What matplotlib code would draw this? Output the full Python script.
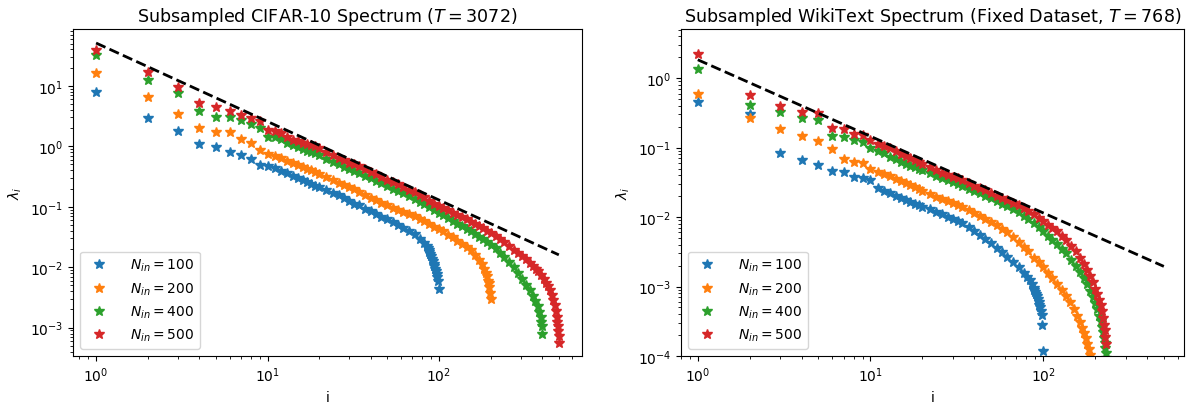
"""Eigenvalue spectra of subsampled CIFAR-10 and WikiText covariances, log-log."""

import matplotlib
matplotlib.use("Agg")
import matplotlib.pyplot as plt

N_IN = [100, 200, 400, 500]
COLORS = ["tab:blue", "tab:orange", "tab:green", "tab:red"]

# ---- CIFAR-10 (T = 3072) ----
cifar_i_100 = [1, 2, 3, 4, 5, 6, 7, 8, 9, 10, 11, 12, 13, 14, 15, 16, 17, 18, 19, 20,
               22, 24, 26, 28, 30, 32, 34, 37, 40, 43, 46, 50, 54, 58, 62, 67, 72, 77,
               82, 85, 86, 87, 88, 89, 90, 91, 92, 93, 94, 95, 96, 97, 98, 99, 100]
cifar_lam_100 = [7.9, 2.95, 1.8, 1.1, 0.98, 0.79, 0.72, 0.61, 0.49, 0.47, 0.43, 0.39,
                 0.355, 0.325, 0.30, 0.275, 0.257, 0.234, 0.224, 0.214,
                 0.19, 0.17, 0.155, 0.138, 0.123, 0.112, 0.105, 0.093, 0.085, 0.076,
                 0.068, 0.062, 0.055, 0.050, 0.045, 0.040, 0.035, 0.0295,
                 0.025, 0.0224, 0.021, 0.0195, 0.018, 0.0166, 0.0151, 0.0138, 0.0126,
                 0.0115, 0.0105, 0.0095, 0.0085, 0.0076, 0.0068, 0.0059, 0.0044]

cifar_i_200 = [1, 2, 3, 4, 5, 6, 7, 8, 9, 10, 11, 12, 13, 14, 15, 16, 17, 18, 19, 20,
               22, 24, 26, 28, 30, 32, 34, 37, 40, 43, 46, 50, 54, 58, 62, 67, 72, 77,
               82, 88, 94, 100, 106, 113, 120, 128, 136, 145, 154, 163, 172, 178, 183,
               187, 190, 193, 195, 197, 199, 200]
cifar_lam_200 = [16.3, 6.6, 3.36, 2.0, 1.72, 1.70, 1.32, 1.14, 0.86, 0.74, 0.68, 0.63,
                 0.575, 0.525, 0.49, 0.457, 0.427, 0.40, 0.372, 0.347,
                 0.309, 0.275, 0.251, 0.229, 0.209, 0.195, 0.178, 0.158, 0.141, 0.129,
                 0.117, 0.105, 0.095, 0.089, 0.083, 0.076, 0.069, 0.063,
                 0.0575, 0.0525, 0.047, 0.0427, 0.039, 0.0347, 0.031, 0.0275, 0.0245,
                 0.0219, 0.019, 0.0162, 0.0132, 0.0112, 0.0095,
                 0.0081, 0.0071, 0.006, 0.0054, 0.0047, 0.0038, 0.003]

cifar_i_400 = [1, 2, 3, 4, 5, 6, 7, 8, 9, 10, 11, 12, 13, 14, 15, 16, 17, 18, 19, 20,
               22, 24, 26, 28, 30, 32, 34, 37, 40, 43, 46, 50, 54, 58, 62, 67, 72, 77,
               82, 88, 94, 100, 106, 113, 120, 128, 136, 145, 154, 163, 172, 181, 191,
               202, 214, 227, 241, 256, 272, 288, 305, 322, 338, 352, 365, 376, 385,
               391, 395, 398, 400]
cifar_lam_400 = [32, 12.7, 7.6, 3.9, 3.1, 3.0, 2.7, 2.34, 2.0, 1.45, 1.40, 1.34,
                 1.15, 1.05, 0.98, 0.91, 0.85, 0.81, 0.76, 0.71,
                 0.62, 0.55, 0.50, 0.457, 0.417, 0.389, 0.363, 0.324, 0.295, 0.269,
                 0.245, 0.219, 0.20, 0.182, 0.166, 0.148, 0.132, 0.120,
                 0.110, 0.098, 0.089, 0.079, 0.072, 0.065, 0.059, 0.0525, 0.048,
                 0.0427, 0.039, 0.0355, 0.0316, 0.0288, 0.0263,
                 0.0234, 0.0204, 0.0174, 0.0145, 0.012, 0.010, 0.0079, 0.0063, 0.005,
                 0.0042, 0.0034, 0.00275, 0.00224, 0.0018,
                 0.0015, 0.00126, 0.00105, 0.00079]

cifar_i_500 = [1, 2, 3, 4, 5, 6, 7, 8, 9, 10, 11, 12, 13, 14, 15, 16, 17, 18, 19, 20,
               22, 24, 26, 28, 30, 32, 34, 37, 40, 43, 46, 50, 54, 58, 62, 67, 72, 77,
               82, 88, 94, 100, 106, 113, 120, 128, 136, 145, 154, 163, 172, 181, 191,
               202, 214, 227, 241, 256, 272, 288, 305, 322, 338, 352, 366, 380, 394,
               408, 420, 432, 444, 455, 465, 474, 481, 487, 491, 494, 496, 498, 500]
cifar_lam_500 = [39, 17, 9.4, 5.2, 4.5, 3.76, 3.3, 2.9, 2.57, 1.85, 1.77, 1.67,
                 1.45, 1.29, 1.20, 1.15, 1.10, 1.05, 1.0, 0.93,
                 0.81, 0.72, 0.645, 0.59, 0.537, 0.50, 0.468, 0.417, 0.38, 0.347,
                 0.316, 0.282, 0.257, 0.234, 0.214, 0.19, 0.174, 0.158,
                 0.145, 0.126, 0.112, 0.102, 0.095, 0.087, 0.079, 0.072, 0.068,
                 0.062, 0.056, 0.051, 0.048, 0.0437, 0.040,
                 0.0363, 0.0324, 0.0288, 0.0257, 0.0224, 0.0195, 0.0174, 0.0151, 0.0135,
                 0.0117, 0.0105, 0.0093, 0.0085, 0.0074,
                 0.0063, 0.0055, 0.0048, 0.0042, 0.0035, 0.0029, 0.00234, 0.0019,
                 0.0015, 0.00126, 0.00105, 0.00089, 0.00074, 0.00056]

cifar_ref_i = [1, 500]
cifar_ref_lam = [51, 0.016]

# ---- WikiText (fixed dataset, T = 768) ----
wiki_i_100 = [1, 2, 3, 4, 5, 6, 7, 8, 9, 10, 11, 12, 13, 14, 15, 16, 17, 18, 19, 20,
              22, 24, 26, 28, 30, 32, 34, 37, 40, 43, 46, 50, 54, 58, 62, 67, 72, 77,
              81, 84, 86, 88, 89, 90, 91, 92, 93, 94, 95, 96, 97, 98, 99, 100]
wiki_lam_100 = [0.45, 0.30, 0.085, 0.066, 0.056, 0.046, 0.045, 0.038, 0.037, 0.034,
                0.026, 0.024, 0.022, 0.020, 0.0186, 0.0174, 0.0166, 0.0155, 0.0148,
                0.0141, 0.0129, 0.0117, 0.011, 0.010, 0.0093, 0.0087, 0.0081, 0.0071,
                0.0063, 0.0055, 0.0049, 0.0042, 0.0036, 0.0031, 0.0027, 0.00224,
                0.0019, 0.00158, 0.00138, 0.00123, 0.0011, 0.00095, 0.00089, 0.00083,
                0.00078, 0.00072, 0.00066, 0.0006, 0.00055, 0.0005, 0.00045, 0.00039,
                0.000275, 0.000117]

wiki_i_200 = [1, 2, 3, 4, 5, 6, 7, 8, 9, 10, 11, 12, 13, 14, 15, 16, 17, 18, 19, 20,
              22, 24, 26, 28, 30, 32, 34, 37, 40, 43, 46, 50, 54, 58, 62, 67, 72, 77,
              82, 88, 94, 100, 106, 113, 120, 128, 136, 143, 150, 157, 163, 168, 172,
              176, 180, 184, 187, 190, 193, 196, 198, 200]
wiki_lam_200 = [0.59, 0.264, 0.184, 0.147, 0.126, 0.094, 0.068, 0.063, 0.061, 0.05,
                0.0447, 0.0417, 0.039, 0.0355, 0.033, 0.031, 0.0288, 0.0269, 0.025,
                0.0234, 0.0214, 0.0195, 0.0182, 0.017, 0.0158, 0.0148, 0.0138, 0.0126,
                0.0115, 0.0105, 0.0095, 0.0085, 0.0076, 0.0068, 0.006, 0.0051, 0.0044,
                0.0037, 0.0032, 0.0026, 0.00224, 0.0019, 0.00158, 0.00132, 0.0011,
                0.00089, 0.00074, 0.00059, 0.00048, 0.00038, 0.00031, 0.00025,
                0.000214, 0.000182, 0.000151, 0.000126, 0.000105, 0.000087, 0.00007,
                0.00005, 0.000035, 0.00002]

wiki_i_400 = [1, 2, 3, 4, 5, 6, 7, 8, 9, 10, 11, 12, 13, 14, 15, 16, 17, 18, 19, 20,
              22, 24, 26, 28, 30, 32, 34, 37, 40, 43, 46, 50, 54, 58, 62, 67, 72, 77,
              82, 88, 94, 100, 106, 113, 120, 128, 136, 145, 154, 163, 172, 180, 188,
              195, 201, 206, 211, 215, 219, 222, 225, 227, 229, 231, 232, 234]
wiki_lam_400 = [1.36, 0.41, 0.33, 0.27, 0.25, 0.147, 0.14, 0.129, 0.122, 0.098,
                0.09, 0.085, 0.074, 0.068, 0.063, 0.059, 0.055, 0.0525, 0.049, 0.047,
                0.0427, 0.039, 0.0363, 0.0339, 0.0316, 0.030, 0.0282, 0.0257, 0.0234,
                0.0219, 0.0204, 0.0186, 0.017, 0.0155, 0.0145, 0.0129, 0.0117, 0.0105,
                0.0093, 0.0081, 0.0071, 0.0062, 0.0054, 0.0047, 0.0041, 0.0035, 0.003,
                0.00245, 0.002, 0.00162, 0.00132, 0.00107, 0.00087, 0.00071, 0.00058,
                0.00047, 0.00038, 0.00032, 0.00026, 0.00022, 0.00018, 0.000155,
                0.000132, 0.000112, 0.000095, 0.000063]

wiki_i_500 = [1, 2, 3, 4, 5, 6, 7, 8, 9, 10, 11, 12, 13, 14, 15, 16, 17, 18, 19, 20,
              22, 24, 26, 28, 30, 32, 34, 37, 40, 43, 46, 50, 54, 58, 62, 67, 72, 77,
              82, 88, 94, 100, 106, 113, 120, 128, 136, 145, 154, 163, 172, 180, 188,
              195, 201, 206, 211, 215, 219, 222, 225, 227, 229, 231]
wiki_lam_500 = [2.2, 0.57, 0.40, 0.33, 0.31, 0.19, 0.184, 0.158, 0.15, 0.13,
                0.112, 0.105, 0.098, 0.089, 0.081, 0.076, 0.071, 0.066, 0.062, 0.0575,
                0.0525, 0.048, 0.0437, 0.0407, 0.038, 0.0363, 0.0339, 0.031, 0.0282,
                0.0263, 0.0245, 0.0224, 0.0204, 0.019, 0.0178, 0.0162, 0.0148, 0.0135,
                0.0123, 0.011, 0.0098, 0.0087, 0.0078, 0.0069, 0.0062, 0.0054, 0.0046,
                0.0038, 0.0032, 0.0026, 0.00214, 0.00174, 0.00141, 0.00115, 0.00093,
                0.00078, 0.00065, 0.00054, 0.00044, 0.00035, 0.00028, 0.000234,
                0.00019, 0.000148]

wiki_ref_i = [1, 500]
wiki_ref_lam = [1.84, 0.00195]


def draw_panel(ax, series, ref_i, ref_lam, title, xlim, ylim):
    for (idx, lam), n, c in zip(series, N_IN, COLORS):
        ax.plot(idx, lam, "*", ls="none", color=c, ms=7.5, label=rf"$N_{{in}} = {n}$")
    ax.plot(ref_i, ref_lam, "k--", lw=2)
    ax.set_xscale("log")
    ax.set_yscale("log")
    ax.set_xlim(*xlim)
    ax.set_ylim(*ylim)
    ax.set_xlabel("i")
    ax.set_ylabel(r"$\lambda_i$")
    ax.set_title(title, fontsize=12.6)
    ax.legend(loc="lower left", handletextpad=1.2)


def main():
    fig = plt.figure(figsize=(11.94, 4.06), dpi=100)
    ax1 = fig.add_axes([0.0611, 0.1207, 0.4263, 0.8054])
    ax2 = fig.add_axes([0.5704, 0.1207, 0.4213, 0.8054])

    draw_panel(ax1,
               [(cifar_i_100, cifar_lam_100), (cifar_i_200, cifar_lam_200),
                (cifar_i_400, cifar_lam_400), (cifar_i_500, cifar_lam_500)],
               cifar_ref_i, cifar_ref_lam,
               r"Subsampled CIFAR-10 Spectrum ($T = 3072$)",
               (0.733, 682), (3.4e-4, 87))
    draw_panel(ax2,
               [(wiki_i_100, wiki_lam_100), (wiki_i_200, wiki_lam_200),
                (wiki_i_400, wiki_lam_400), (wiki_i_500, wiki_lam_500)],
               wiki_ref_i, wiki_ref_lam,
               r"Subsampled WikiText Spectrum (Fixed Dataset, $T = 768$)",
               (0.8, 655), (1e-4, 5.1))

    fig.savefig("out.png", dpi=100)


if __name__ == "__main__":
    main()
